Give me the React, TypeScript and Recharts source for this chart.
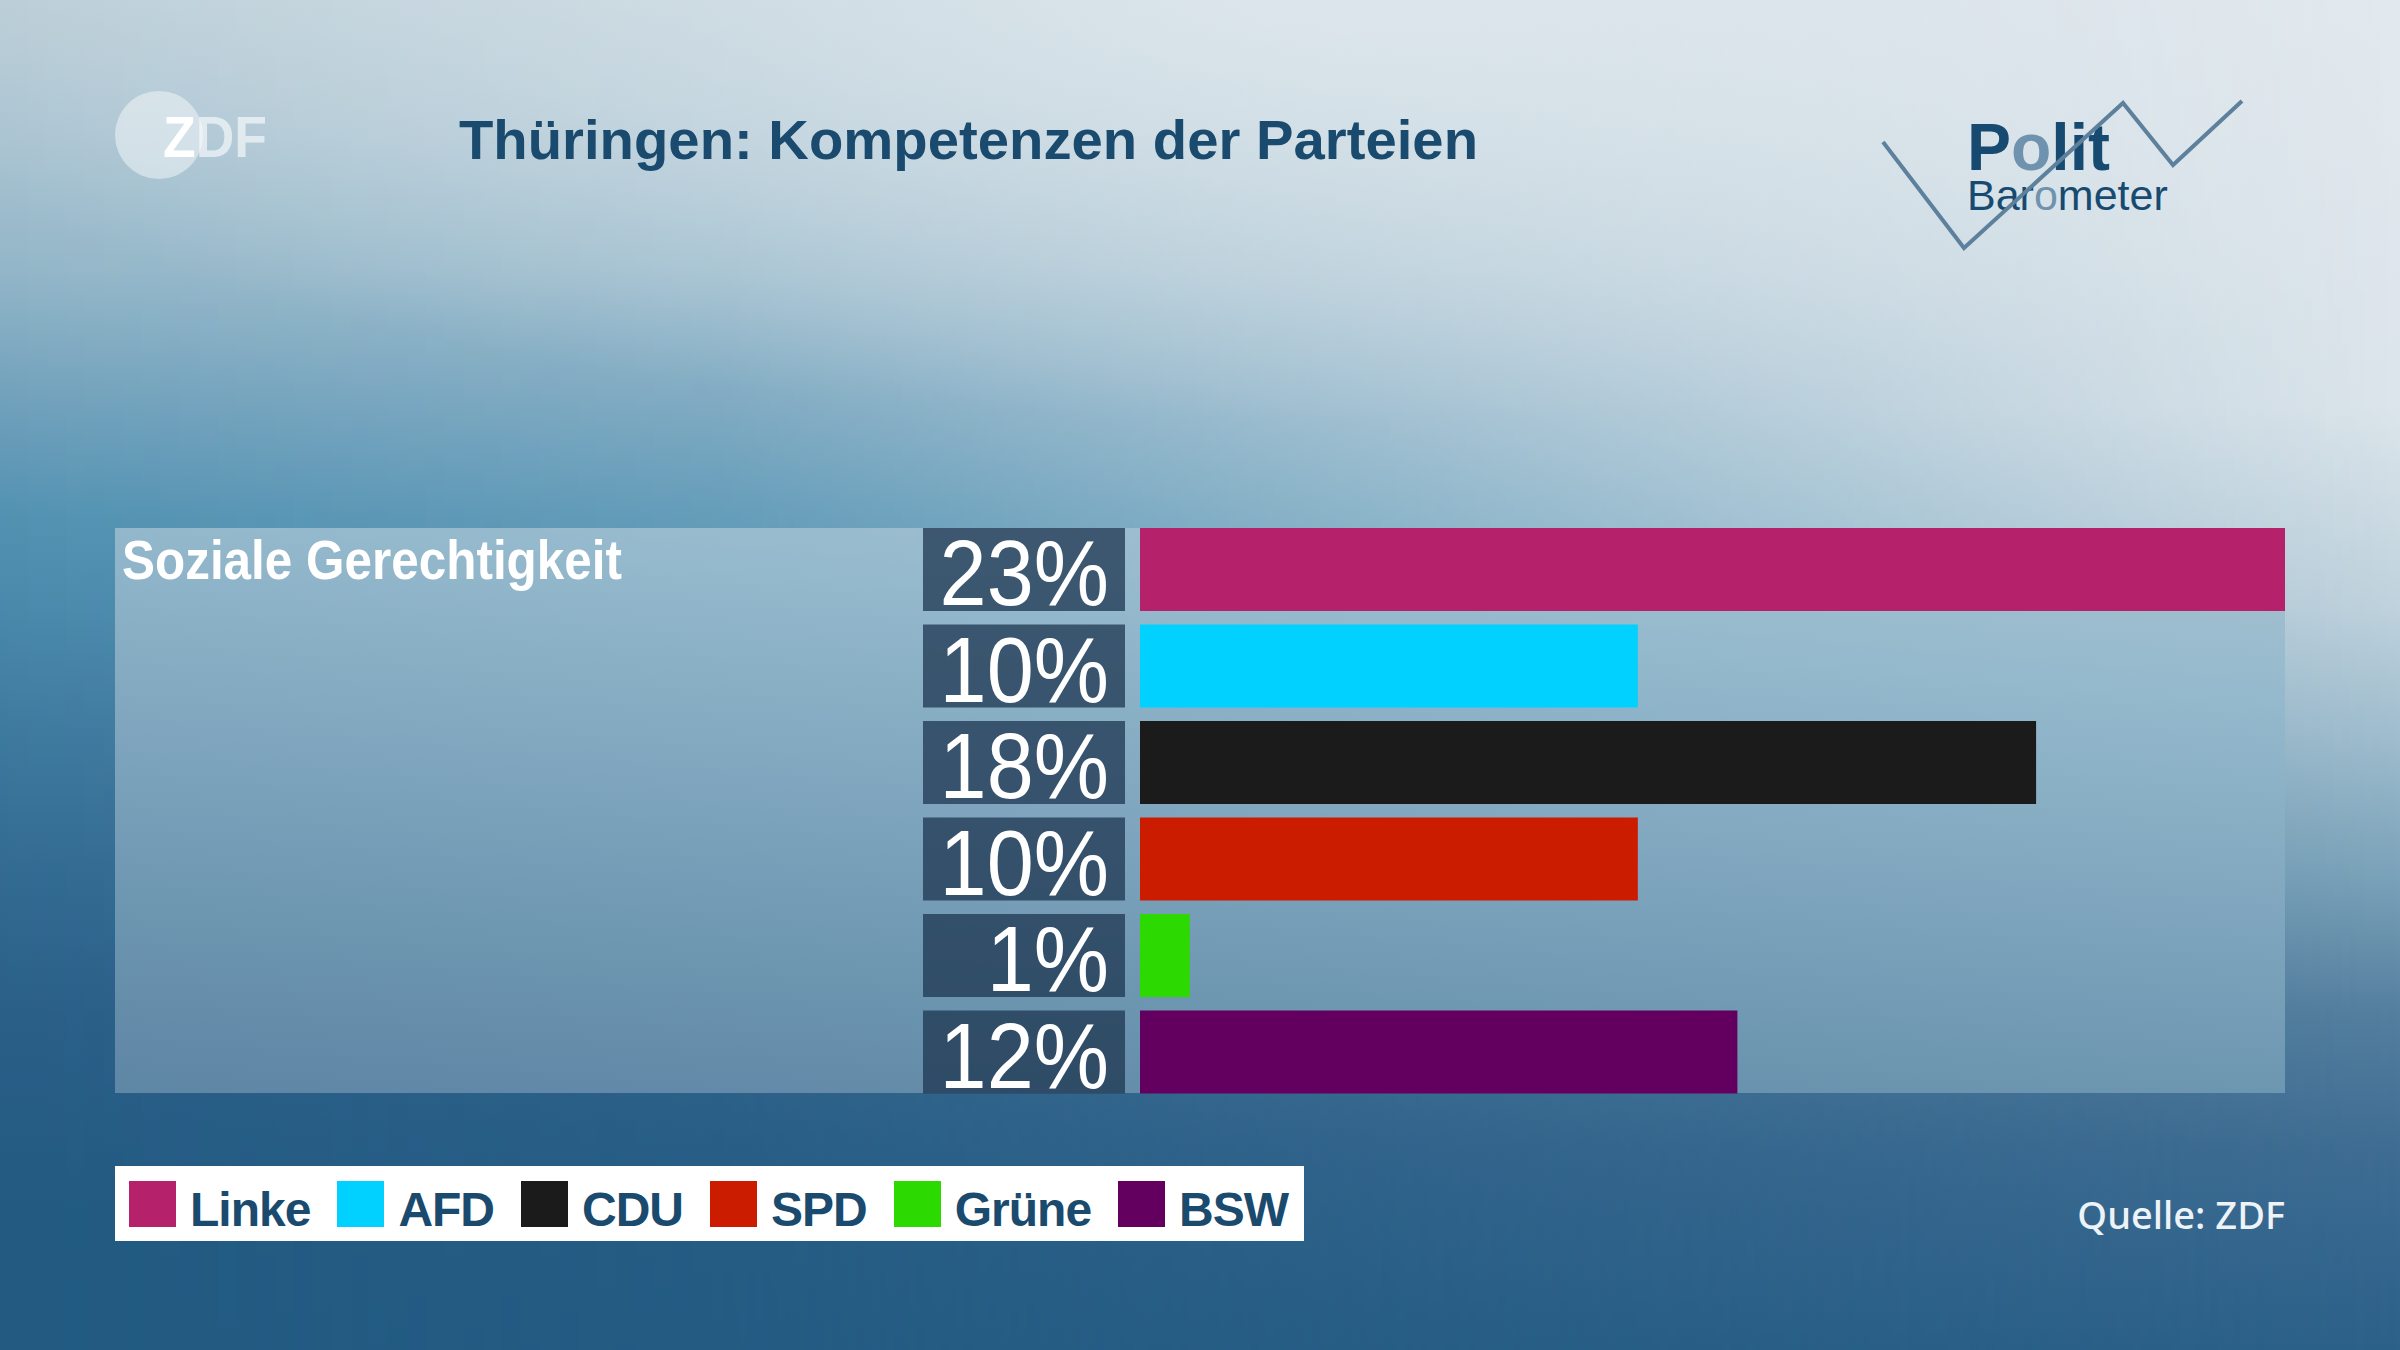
import { BarChart, Bar, XAxis, YAxis, Cell } from 'recharts';

const PARTIES = ['Linke', 'AFD', 'CDU', 'SPD', 'Grüne', 'BSW'];
const VALUES = [23, 10, 18, 10, 1, 12];
const COLORS = ['#b5216a', '#00d1ff', '#1b1b1b', '#cc1c00', '#2cd900', '#63005f'];
const TOPIC = 'Soziale Gerechtigkeit';
const TITLE = 'Thüringen: Kompetenzen der Parteien';
const SOURCE = 'Quelle: ZDF';

const rows = PARTIES.map((party, i) => ({ party, value: VALUES[i] }));

const SANS = "'Liberation Sans', Arial, sans-serif";
const NAVY = '#1a4b6e';

// label box + bar drawn together so the box follows the row band
function RowShape(props: any) {
  const { x, y, width, height, fill, payload } = props;
  return (
    <g>
      <rect x={x - 217} y={y} width={202} height={height} fill="#1e3650" fillOpacity={0.75} />
      <text
        transform={`translate(${x - 31}, ${y + height - 6}) scale(0.92, 1)`}
        textAnchor="end"
        fill="#ffffff"
        fontSize={92}
        fontFamily={SANS}
      >
        {payload.value}%
      </text>
      <rect x={x} y={y} width={width} height={height} fill={fill} />
    </g>
  );
}

const fade = 'linear-gradient(to right, #000 0%, rgba(0,0,0,0.85) 30%, rgba(0,0,0,0) 100%)';

export default function App() {
  return (
    <div
      style={{
        position: 'absolute',
        left: 0,
        top: 0,
        width: 2400,
        height: 1350,
        overflow: 'hidden',
        fontFamily: SANS,
        // right-edge profile
        background:
          'linear-gradient(to bottom, #e2e9ee 0%, #dce5eb 30%, #bfd2dd 45%, #9ebccd 55%, #7aa2b9 65%, #557f9f 75%, #3f6d93 85%, #2c6189 100%)',
      }}
    >
      {/* left-edge profile, faded towards the right */}
      <div
        style={{
          position: 'absolute',
          inset: 0,
          background:
            'linear-gradient(to bottom, #b8ccd6 0%, #a9c3d1 10%, #93b6c8 20%, #6fa0bb 30%, #5392b2 38%, #4a89ab 45%, #3d789d 55%, #326a92 65%, #2a5f88 75%, #225a82 90%, #225a82 100%)',
          WebkitMaskImage: fade,
          maskImage: fade,
        }}
      />
      {/* soft light along the top */}
      <div
        style={{
          position: 'absolute',
          inset: 0,
          background:
            'radial-gradient(ellipse 1500px 420px at 55% 0%, rgba(226,234,239,0.75) 0%, rgba(226,234,239,0) 100%)',
        }}
      />

      {/* panel behind the bars */}
      <div
        style={{
          position: 'absolute',
          left: 115,
          top: 528,
          width: 2170,
          height: 565,
          background: 'linear-gradient(185deg, #a8c3d2 0%, #93b8cc 25%, #6d96b1 75%, #5e86a5 100%)',
        }}
      />

      <div style={{ position: 'absolute', left: 0, top: 0 }}>
        <BarChart
          width={2400}
          height={1350}
          data={rows}
          layout="vertical"
          margin={{ top: 521, right: 115, bottom: 250, left: 1140 }}
          barCategoryGap={7}
        >
          <XAxis type="number" domain={[0, 23]} hide />
          <YAxis type="category" dataKey="party" hide />
          <Bar dataKey="value" isAnimationActive={false} shape={<RowShape />}>
            {rows.map((_, i) => (
              <Cell key={`cell-${i}`} fill={COLORS[i % COLORS.length]} />
            ))}
          </Bar>
        </BarChart>
      </div>

      <svg
        width={2400}
        height={1350}
        style={{ position: 'absolute', left: 0, top: 0, pointerEvents: 'none' }}
      >
        {/* ZDF logo */}
        <circle cx={159} cy={135} r={44} fill="#ffffff" fillOpacity={0.45} />
        <text x={163} y={157} fontSize={58} fontWeight="bold" fontFamily={SANS} textLength={104} lengthAdjust="spacingAndGlyphs">
          <tspan fill="#ffffff">Z</tspan>
          <tspan fill="#ffffff" fillOpacity={0.6}>DF</tspan>
        </text>

        <text x={459} y={159} fontSize={55} fontWeight="bold" fontFamily={SANS} fill={NAVY} textLength={1019} lengthAdjust="spacingAndGlyphs">
          {TITLE}
        </text>

        {/* Polit Barometer logo */}
        <text x={1967} y={170} fontSize={66} fontWeight="bold" fontFamily={SANS}>
          <tspan fill="#174a70">P</tspan>
          <tspan fill="#6f93ae">o</tspan>
          <tspan fill="#174a70">lit</tspan>
        </text>
        <text x={1967} y={210} fontSize={43} fontFamily={SANS}>
          <tspan fill="#174a70">Bar</tspan>
          <tspan fill="#6f93ae">o</tspan>
          <tspan fill="#174a70">meter</tspan>
        </text>
        <polyline
          points="1883,142 1964,248 2123,103 2173,165 2242,101"
          fill="none"
          stroke="#5d809c"
          strokeWidth={4}
        />

        <text x={122} y={579} fontSize={55} fontWeight="bold" fontFamily={SANS} fill="#ffffff" textLength={500} lengthAdjust="spacingAndGlyphs">
          {TOPIC}
        </text>

        <text x={2285} y={1229} textAnchor="end" fontSize={38} fontWeight={500} fontFamily="'Noto Sans', sans-serif" fill="#eef3f8">
          {SOURCE}
        </text>
      </svg>

      {/* legend */}
      <div
        style={{
          position: 'absolute',
          left: 115,
          top: 1166,
          width: 1189,
          height: 75,
          background: '#ffffff',
          boxSizing: 'border-box',
          paddingLeft: 14,
          display: 'flex',
          alignItems: 'center',
        }}
      >
        {PARTIES.map((p, i) => (
          <div key={p} style={{ display: 'flex', alignItems: 'center', marginRight: 27 }}>
            <div style={{ width: 47, height: 46, background: COLORS[i], marginRight: 14 }} />
            <span
              style={{
                fontSize: 48,
                lineHeight: '48px',
                fontWeight: 'bold',
                letterSpacing: -1,
                color: NAVY,
                marginTop: 12,
              }}
            >
              {p}
            </span>
          </div>
        ))}
      </div>
    </div>
  );
}
